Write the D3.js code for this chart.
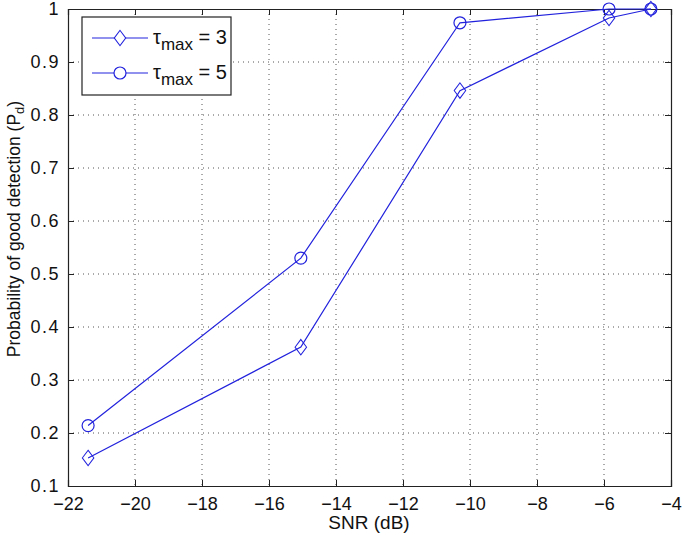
<!DOCTYPE html>
<html>
<head>
<meta charset="utf-8">
<script src="https://cdn.jsdelivr.net/npm/d3@7"></script>
<style>
body{margin:0;background:#fff;}
text{font-family:"Liberation Sans",Arial,Helvetica,sans-serif;}
</style>
</head>
<body>
<div id="chart"></div>
<script>
// data
var snr = [-21.4, -15.05, -10.3, -5.85, -4.6];
var tau3 = [0.153, 0.362, 0.846, 0.983, 1.0];
var tau5 = [0.214, 0.530, 0.974, 1.0, 1.0];
var xTicks = [-22, -20, -18, -16, -14, -12, -10, -8, -6, -4];
var yTicks = [0.1, 0.2, 0.3, 0.4, 0.5, 0.6, 0.7, 0.8, 0.9, 1];

var W = 685, H = 535;
var pL = 68, pR = 671, pT = 9, pB = 486;
var blue = "#2222dd";

var svg = d3.select("#chart").append("svg").attr("width", W).attr("height", H);

var x = d3.scaleLinear().domain([-22, -4]).range([pL, pR]);
var y = d3.scaleLinear().domain([0.1, 1]).range([pB, pT]);

// grid
svg.append("g").selectAll("line").data(xTicks.slice(1, -1)).enter().append("line")
    .attr("x1", function(d){return x(d);}).attr("x2", function(d){return x(d);})
    .attr("y1", pT).attr("y2", pB)
    .attr("stroke", "#555").attr("stroke-width", 1).attr("stroke-dasharray", "1,4");
svg.append("g").selectAll("line").data(yTicks.slice(1, -1)).enter().append("line")
    .attr("y1", function(d){return y(d);}).attr("y2", function(d){return y(d);})
    .attr("x1", pL).attr("x2", pR)
    .attr("stroke", "#555").attr("stroke-width", 1).attr("stroke-dasharray", "1,4");

// axes with inward ticks
var fmtX = function(d){return d < 0 ? "\u2212" + Math.abs(d) : d;};
var fmtY = function(d){return String(+d.toFixed(1));};
var ax = svg.append("g").attr("transform", "translate(0," + pB + ")")
    .call(d3.axisBottom(x).tickValues(xTicks).tickSize(-6).tickPadding(11).tickFormat(fmtX));
var axT = svg.append("g").attr("transform", "translate(0," + pT + ")")
    .call(d3.axisTop(x).tickValues(xTicks).tickSize(-6).tickFormat(""));
var ay = svg.append("g").attr("transform", "translate(" + pL + ",0)")
    .call(d3.axisLeft(y).tickValues(yTicks).tickSize(-6).tickPadding(8).tickFormat(fmtY));
var ayR = svg.append("g").attr("transform", "translate(" + pR + ",0)")
    .call(d3.axisRight(y).tickValues(yTicks).tickSize(-6).tickFormat(""));
[ax, axT, ay, ayR].forEach(function(g){
    g.select(".domain").attr("stroke", "#222").attr("stroke-width", 1.2);
    g.selectAll(".tick line").attr("stroke", "#222");
    g.selectAll("text").attr("fill", "#111").style("font-size", "18px");
});
ay.selectAll("text").style("letter-spacing", "1.5px");

// series
var line = d3.line().x(function(d){return x(d[0]);}).y(function(d){return y(d[1]);});
var s3 = d3.zip(snr, tau3), s5 = d3.zip(snr, tau5);
svg.append("path").datum(s3).attr("d", line).attr("fill", "none").attr("stroke", blue).attr("stroke-width", 1.2);
svg.append("path").datum(s5).attr("d", line).attr("fill", "none").attr("stroke", blue).attr("stroke-width", 1.2);

var diamond = d3.symbol().type(d3.symbolDiamond2).size(150);
svg.append("g").selectAll("path").data(s3).enter().append("path")
    .attr("d", diamond)
    .attr("transform", function(d){return "translate(" + x(d[0]) + "," + y(d[1]) + ") scale(0.75,1)";})
    .attr("fill", "none").attr("stroke", blue).attr("stroke-width", 1.2);
svg.append("g").selectAll("circle").data(s5).enter().append("circle")
    .attr("cx", function(d){return x(d[0]);}).attr("cy", function(d){return y(d[1]);})
    .attr("r", 6).attr("fill", "none").attr("stroke", blue).attr("stroke-width", 1.2);

// legend
var lg = svg.append("g");
lg.append("rect").attr("x", 82).attr("y", 17).attr("width", 149).attr("height", 78)
    .attr("fill", "#fff").attr("stroke", "#222").attr("stroke-width", 1.2);
var legendItems = [{label: "3", sym: "d", cy: 38}, {label: "5", sym: "o", cy: 73}];
legendItems.forEach(function(it){
    lg.append("line").attr("x1", 92).attr("x2", 148).attr("y1", it.cy).attr("y2", it.cy)
        .attr("stroke", blue).attr("stroke-width", 1.2);
    if (it.sym == "d") {
        lg.append("path").attr("d", diamond)
            .attr("transform", "translate(120," + it.cy + ") scale(0.75,1)")
            .attr("fill", "#fff").attr("stroke", blue).attr("stroke-width", 1.2);
    } else {
        lg.append("circle").attr("cx", 120).attr("cy", it.cy).attr("r", 6)
            .attr("fill", "#fff").attr("stroke", blue).attr("stroke-width", 1.2);
    }
    var t = lg.append("text").attr("x", 153).attr("y", it.cy + 6).attr("fill", "#111").style("font-size", "20px");
    t.append("tspan").text("\u03c4");
    t.append("tspan").attr("dy", 6).style("font-size", "17px").text("max");
    t.append("tspan").attr("dy", -6).text(" = " + it.label);
});

// axis labels
svg.append("text").attr("x", 369).attr("y", 529).attr("text-anchor", "middle")
    .attr("fill", "#111").style("font-size", "19px").text("SNR (dB)");
var yl = svg.append("text").attr("transform", "translate(20,229) rotate(-90)")
    .attr("text-anchor", "middle").attr("fill", "#111").style("font-size", "17.5px");
yl.append("tspan").text("Probability of good detection (P");
yl.append("tspan").attr("dy", 4).style("font-size", "13px").text("d");
yl.append("tspan").attr("dy", -4).text(")");
</script>
</body>
</html>
